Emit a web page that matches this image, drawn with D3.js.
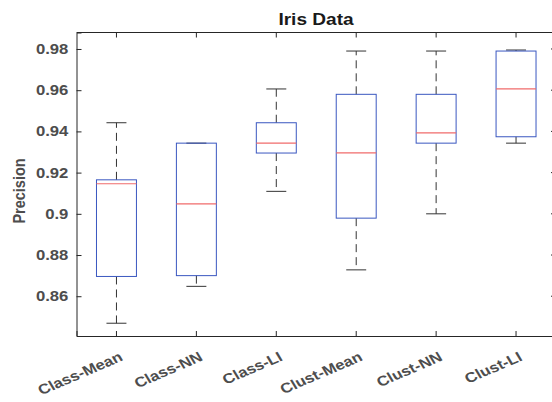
<!DOCTYPE html>
<html>
<head>
<meta charset="utf-8">
<script src="https://cdn.jsdelivr.net/npm/d3@7"></script>
<style>
  body { margin: 0; background: #fff; }
  svg text { font-family: "Liberation Sans", Arial, sans-serif; }
</style>
</head>
<body>
<div id="chart"></div>
<script>
// Data: whisker low, Q1, median, Q3, whisker high
var categories = ["Class-Mean", "Class-NN", "Class-LI", "Clust-Mean", "Clust-NN", "Clust-LI"];
var lowWhisker = [0.8469, 0.8648, 0.9109, 0.8728, 0.9000, 0.9343];
var q1Values   = [0.8696, 0.8700, 0.9295, 0.8979, 0.9343, 0.9374];
var medians    = [0.9146, 0.9048, 0.9343, 0.9296, 0.9393, 0.9606];
var q3Values   = [0.9165, 0.9343, 0.9442, 0.9580, 0.9580, 0.9790];
var highWhisker = [0.9442, 0.9343, 0.9606, 0.9790, 0.9790, 0.9795];
var yTicks = [0.86, 0.88, 0.9, 0.92, 0.94, 0.96, 0.98];

var svgWidth = 552;
var svgHeight = 402;

var margin = { top: 32.5, right: -4, bottom: 66, left: 76.5 };
var width = svgWidth - margin.left - margin.right;
var height = svgHeight - margin.top - margin.bottom;

// the picture is a bit wider than tall, text looks stretched sideways
var stretch = 1.19;

var svg = d3.select("#chart")
  .append("svg")
  .attr("width", svgWidth)
  .attr("height", svgHeight);

var chartGroup = svg.append("g")
  .attr("transform", `translate(${margin.left}, ${margin.top})`);

// build rows for each box
var boxData = categories.map(function(c, i) {
  return { name: c, lo: lowWhisker[i], q1: q1Values[i], med: medians[i], q3: q3Values[i], hi: highWhisker[i] };
});

var xScale = d3.scaleBand()
  .domain(categories)
  .range([0, width]);

var yScale = d3.scaleLinear()
  .domain([0.8407, 0.988])
  .range([height, 0]);

var axisColor = "#262626";
var labelColor = "#4d4d4d";
var boxW = xScale.bandwidth() / 2;
var capW = xScale.bandwidth() / 4;

// widen a horizontal text by the stretch factor
function widen(sel) {
  sel.each(function() {
    var len = this.getComputedTextLength();
    d3.select(this)
      .attr("textLength", len * stretch)
      .attr("lengthAdjust", "spacingAndGlyphs");
  });
}

// box frame (top + right lines)
chartGroup.append("line")
  .attr("x1", 0).attr("x2", width)
  .attr("y1", 0).attr("y2", 0)
  .attr("stroke", axisColor);
chartGroup.append("line")
  .attr("x1", width).attr("x2", width)
  .attr("y1", 0).attr("y2", height)
  .attr("stroke", axisColor);

// left axis
var leftAxis = d3.axisLeft(yScale)
  .tickValues(yTicks)
  .tickSize(-5)
  .tickPadding(8.2)
  .tickFormat(d => String(+d.toFixed(2)));

var yAxis = chartGroup.append("g").call(leftAxis);
yAxis.select(".domain").attr("stroke", axisColor);
yAxis.selectAll(".tick line").attr("stroke", axisColor);
yAxis.selectAll("text")
  .attr("fill", labelColor)
  .attr("x", -8.2)
  .style("font-size", "14px")
  .style("font-weight", "bold")
  .call(widen);

// right side ticks
chartGroup.append("g")
  .selectAll("line")
  .data(yTicks)
  .enter()
  .append("line")
  .attr("x1", width).attr("x2", width - 5)
  .attr("y1", d => yScale(d)).attr("y2", d => yScale(d))
  .attr("stroke", axisColor);

// bottom axis, labels drawn separately below
var bottomAxis = d3.axisBottom(xScale)
  .tickSize(-5)
  .tickFormat("");

var xAxis = chartGroup.append("g")
  .attr("transform", `translate(0, ${height})`)
  .call(bottomAxis);
xAxis.select(".domain").attr("stroke", axisColor);
xAxis.selectAll(".tick line").attr("stroke", axisColor);

// rotated category labels
chartGroup.append("g")
  .selectAll("g")
  .data(categories)
  .enter()
  .append("g")
  .attr("transform", d => `translate(${xScale(d) + xScale.bandwidth() / 2 + 2}, ${height + 15}) scale(${stretch},1) rotate(-27)`)
  .append("text")
  .attr("text-anchor", "end")
  .attr("dy", "0.72em")
  .attr("fill", labelColor)
  .style("font-size", "14px")
  .style("font-weight", "bold")
  .text(d => d);

// top ticks
chartGroup.append("g")
  .selectAll("line")
  .data(categories)
  .enter()
  .append("line")
  .attr("x1", d => xScale(d) + xScale.bandwidth() / 2)
  .attr("x2", d => xScale(d) + xScale.bandwidth() / 2)
  .attr("y1", 0).attr("y2", 5)
  .attr("stroke", axisColor);

// boxes
var boxes = chartGroup.selectAll(null)
  .data(boxData)
  .enter()
  .append("g")
  .attr("transform", d => `translate(${xScale(d.name) + xScale.bandwidth() / 2}, 0)`);

// whiskers (dashed)
boxes.append("line")
  .attr("x1", 0).attr("x2", 0)
  .attr("y1", d => yScale(d.q3)).attr("y2", d => yScale(d.hi))
  .attr("stroke", "#333").attr("stroke-dasharray", "8,5");
boxes.append("line")
  .attr("x1", 0).attr("x2", 0)
  .attr("y1", d => yScale(d.q1)).attr("y2", d => yScale(d.lo))
  .attr("stroke", "#333").attr("stroke-dasharray", "8,5");

// whisker caps
boxes.append("line")
  .attr("x1", -capW / 2).attr("x2", capW / 2)
  .attr("y1", d => yScale(d.hi)).attr("y2", d => yScale(d.hi))
  .attr("stroke", "#333");
boxes.append("line")
  .attr("x1", -capW / 2).attr("x2", capW / 2)
  .attr("y1", d => yScale(d.lo)).attr("y2", d => yScale(d.lo))
  .attr("stroke", "#333");

// box
boxes.append("rect")
  .attr("x", -boxW / 2)
  .attr("width", boxW)
  .attr("y", d => yScale(d.q3))
  .attr("height", d => yScale(d.q1) - yScale(d.q3))
  .attr("fill", "none")
  .attr("stroke", "#3a57c0");

// median
boxes.append("line")
  .attr("x1", -boxW / 2).attr("x2", boxW / 2)
  .attr("y1", d => yScale(d.med)).attr("y2", d => yScale(d.med))
  .attr("stroke", "#f06b6b")
  .attr("stroke-width", 1.2);

// title
svg.append("text")
  .attr("x", 316)
  .attr("y", 25)
  .attr("text-anchor", "middle")
  .attr("fill", "#1a1a1a")
  .style("font-size", "16px")
  .style("font-weight", "bold")
  .text("Iris Data")
  .call(widen);

// y label
svg.append("g")
  .attr("transform", `translate(25, 191) scale(${stretch},1) rotate(-90)`)
  .append("text")
  .attr("text-anchor", "middle")
  .attr("fill", labelColor)
  .style("font-size", "14.5px")
  .style("font-weight", "bold")
  .text("Precision");
</script>
</body>
</html>
